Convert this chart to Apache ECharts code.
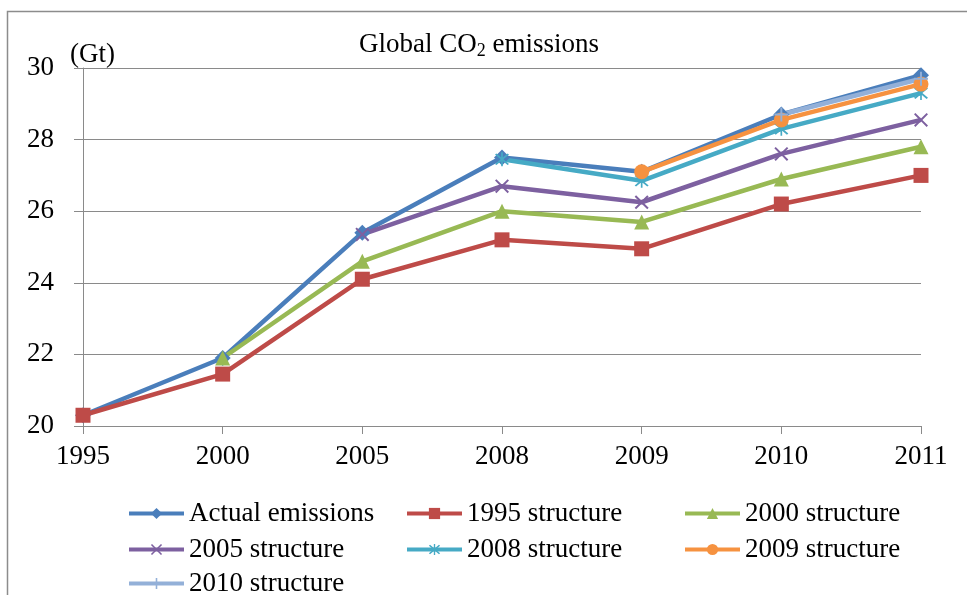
<!DOCTYPE html>
<html>
<head>
<meta charset="utf-8">
<script src="https://cdn.jsdelivr.net/npm/echarts@6/dist/echarts.min.js"></script>
<style>
  html, body { margin: 0; padding: 0; background: #fff; }
  #chart { width: 967px; height: 595px; }
</style>
</head>
<body>
<div id="chart"></div>
<script>
// Years on the horizontal axis
const years = ['1995', '2000', '2005', '2008', '2009', '2010', '2011'];

// Global CO2 emissions (Gt): actual and with fixed economic structure of a given year
const actualEmissions = [20.3, 21.9, 25.4, 27.5, 27.1, 28.7, 29.8];
const structure1995   = [20.3, 21.45, 24.1, 25.2, 24.95, 26.2, 27.0];
const structure2000   = [null, 21.9, 24.6, 26.0, 25.7, 26.9, 27.8];
const structure2005   = [null, null, 25.35, 26.7, 26.25, 27.6, 28.55];
const structure2008   = [null, null, null, 27.45, 26.85, 28.3, 29.3];
const structure2009   = [null, null, null, null, 27.1, 28.55, 29.55];
const structure2010   = [null, null, null, null, null, 28.7, 29.7];

const seriesNames = ['Actual emissions', '1995 structure', '2000 structure', '2005 structure',
                     '2008 structure', '2009 structure', '2010 structure'];

// Marker shapes drawn as filled outlines
const xMark = 'path://M0,1 L1,0 L5,4 L9,0 L10,1 L6,5 L10,9 L9,10 L5,6 L1,10 L0,9 L4,5 Z';
const starMark = 'path://M0,1 L1,0 L5,4 L9,0 L10,1 L6,5 L10,9 L9,10 L5,6 L1,10 L0,9 L4,5 Z M4.4,-1 L5.6,-1 L5.6,11 L4.4,11 Z';
const plusMark = 'path://M4.3,0 L5.7,0 L5.7,4.3 L10,4.3 L10,5.7 L5.7,5.7 L5.7,10 L4.3,10 L4.3,5.7 L0,5.7 L0,4.3 L4.3,4.3 Z';

const serif = '"Liberation Serif", "Times New Roman", serif';
const axisGray = '#8a8a8a';

function makeSeries(name, data, color, symbol, size) {
  return {
    name: name,
    type: 'line',
    data: data,
    symbol: symbol,
    symbolSize: size,
    showSymbol: true,
    connectNulls: false,
    lineStyle: { color: color, width: 4.5 },
    itemStyle: { color: color },
    emphasis: { disabled: true },
    animation: false
  };
}

// One legend block per entry, laid out in three columns
const legendCols = [122, 400, 678];
const legendRows = [495, 531, 565];
function legendAt(name, col, row) {
  return {
    left: legendCols[col],
    top: legendRows[row],
    data: [name],
    itemWidth: 55,
    itemHeight: 14,
    itemGap: 0,
    selectedMode: false,
    lineStyle: { width: 4 },
    textStyle: { fontFamily: serif, fontSize: 27, color: '#000' }
  };
}

const chart = echarts.init(document.getElementById('chart'), null, { renderer: 'canvas' });

chart.setOption({
  backgroundColor: '#fff',
  animation: false,
  title: {
    text: '{a|Global CO}{b|2}{a| emissions}',
    left: 354,
    top: 25,
    textStyle: {
      fontWeight: 'normal',
      rich: {
        a: { fontFamily: serif, fontSize: 27, color: '#000' },
        b: { fontFamily: serif, fontSize: 18, color: '#000', padding: [12, 0, 0, 0] }
      }
    }
  },
  graphic: [{
    type: 'rect',
    shape: { x: 7.5, y: 11.5, width: 1200, height: 1200 },
    style: { fill: 'none', stroke: '#8c8c8c', lineWidth: 1.5 },
    silent: true,
    z: -1
  }],
  legend: [
    legendAt(seriesNames[0], 0, 0),
    legendAt(seriesNames[1], 1, 0),
    legendAt(seriesNames[2], 2, 0),
    legendAt(seriesNames[3], 0, 1),
    legendAt(seriesNames[4], 1, 1),
    legendAt(seriesNames[5], 2, 1),
    legendAt(seriesNames[6], 0, 2)
  ],
  grid: { left: 83, right: 46, top: 68, bottom: 169 },
  xAxis: {
    type: 'category',
    data: years,
    boundaryGap: false,
    axisLine: { lineStyle: { color: axisGray, width: 1 } },
    axisTick: { show: true, length: 8, lineStyle: { color: axisGray } },
    axisLabel: { fontFamily: serif, fontSize: 27, color: '#000', margin: 17 }
  },
  yAxis: {
    type: 'value',
    min: 20,
    max: 30,
    interval: 2,
    name: '(Gt)',
    nameLocation: 'end',
    nameGap: 0,
    nameTextStyle: { fontFamily: serif, fontSize: 27, color: '#000', align: 'left', padding: [0, 0, 0, -13] },
    axisLine: { show: true, lineStyle: { color: axisGray, width: 1 } },
    axisTick: { show: true, length: 9, lineStyle: { color: axisGray } },
    splitLine: { lineStyle: { color: axisGray, width: 1 } },
    axisLabel: { fontFamily: serif, fontSize: 27, color: '#000', margin: 29 }
  },
  series: [
    makeSeries(seriesNames[0], actualEmissions, '#4a7ebb', 'diamond', 16),
    makeSeries(seriesNames[1], structure1995, '#be4b48', 'rect', 15),
    makeSeries(seriesNames[2], structure2000, '#98b954', 'triangle', 15),
    makeSeries(seriesNames[3], structure2005, '#7d60a0', xMark, 14),
    makeSeries(seriesNames[4], structure2008, '#46aac5', starMark, 14),
    makeSeries(seriesNames[5], structure2009, '#f69240', 'circle', 15),
    makeSeries(seriesNames[6], structure2010, '#93b0d8', plusMark, 14)
  ]
});
</script>
</body>
</html>
